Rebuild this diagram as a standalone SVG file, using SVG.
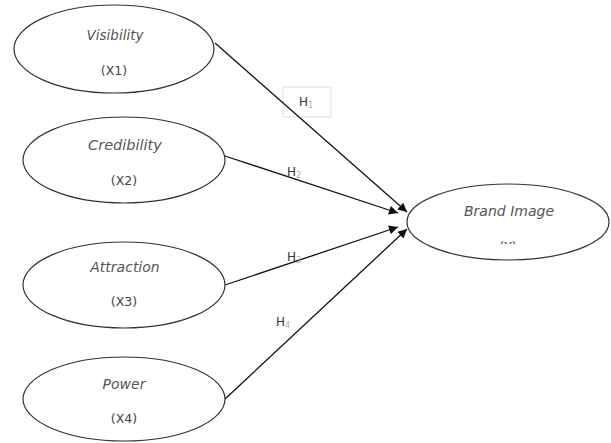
<svg xmlns="http://www.w3.org/2000/svg" width="611" height="443" viewBox="0 0 611 443">
<style>
.node ellipse{fill:#fff;stroke:#333;stroke-width:1.2}
.lbl{font-family:"DejaVu Sans",Verdana,sans-serif;font-style:italic;font-size:14px;fill:#555;text-anchor:middle}
.code{font-family:"DejaVu Sans",Verdana,sans-serif;font-size:12.5px;fill:#444;text-anchor:middle}
.edge{stroke:#111;stroke-width:1.3;fill:none;marker-end:url(#arr)}
.h{font-family:"DejaVu Sans",Verdana,sans-serif;font-size:12px;fill:#333}
.sub{font-size:8px;fill:#aaa}
</style>
<defs>
<marker id="arr" viewBox="0 0 10 10" refX="10" refY="5" markerWidth="11" markerHeight="9" markerUnits="userSpaceOnUse" orient="auto">
<path d="M0,0 L10,5 L0,10 z" fill="#111"/>
</marker>
<clipPath id="cy"><rect x="400" y="180" width="211" height="64"/></clipPath>
</defs>
<rect width="611" height="443" fill="#fff"/>
<g id="connectors">
<rect x="283" y="87" width="48" height="30" fill="#fff" stroke="#ddd" stroke-width="1"/>
<line class="edge" x1="215" y1="43" x2="407" y2="212"/>
<line class="edge" x1="225" y1="156" x2="398" y2="213"/>
<line class="edge" x1="225" y1="285" x2="398" y2="227"/>
<line class="edge" x1="225" y1="399" x2="407" y2="229"/>
<text class="h" x="299" y="106">H<tspan class="sub" dy="2" fill="#333">1</tspan></text>
<text class="h" x="287" y="176">H<tspan class="sub" dy="2">2</tspan></text>
<text class="h" x="287" y="261">H<tspan class="sub" dy="2">3</tspan></text>
<text class="h" x="276" y="326">H<tspan class="sub" dy="2">4</tspan></text>
</g>
<g id="visibility" class="node">
<ellipse cx="114" cy="49" rx="100" ry="44"/>
<text class="lbl" x="115" y="40" style="font-size:13.5px">Visibility</text>
<text class="code" x="114" y="75">(X1)</text>
</g>
<g id="credibility" class="node">
<ellipse cx="124" cy="160" rx="101" ry="43"/>
<text class="lbl" x="125" y="150" style="font-size:14.5px">Credibility</text>
<text class="code" x="124" y="185">(X2)</text>
</g>
<g id="attraction" class="node">
<ellipse cx="124" cy="285" rx="101" ry="43"/>
<text class="lbl" x="125" y="272">Attraction</text>
<text class="code" x="124" y="306">(X3)</text>
</g>
<g id="power" class="node">
<ellipse cx="124" cy="399" rx="101" ry="42"/>
<text class="lbl" x="124" y="389">Power</text>
<text class="code" x="124" y="423">(X4)</text>
</g>
<g id="brand-image" class="node">
<ellipse cx="508" cy="222" rx="101" ry="38"/>
<text class="lbl" x="509" y="216">Brand Image</text>
<text class="code" x="508" y="251" clip-path="url(#cy)">(Y)</text>
</g>
</svg>
